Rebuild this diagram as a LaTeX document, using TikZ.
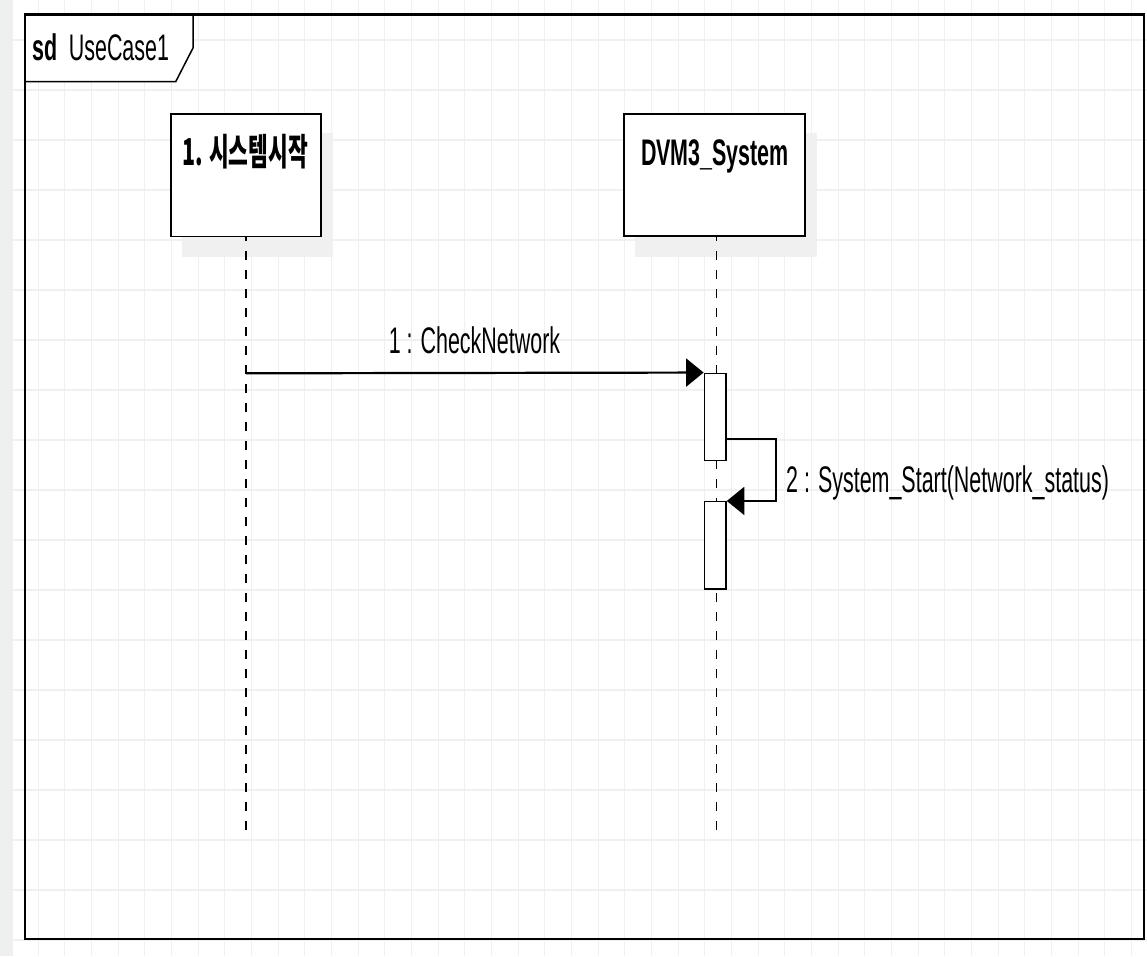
\documentclass[tikz,border=0pt]{standalone}
\usepackage{fontspec}
\usepackage{graphicx}
\setmainfont{Liberation Sans}
\newfontfamily\krfont{Noto Sans CJK KR}
\usetikzlibrary{arrows.meta,backgrounds}
\definecolor{gridc}{RGB}{240,240,240}
\definecolor{stripc}{RGB}{238,240,239}
\definecolor{shadowc}{RGB}{240,240,240}
\newcommand\sqz[1]{\scalebox{0.58}[1]{#1}}
\begin{document}
\begin{tikzpicture}[x=1pt,y=-1pt,
  gridline/.style={draw=gridc,line width=1.2pt},
  headbox/.style={draw=black,fill=white,line width=1.6pt,inner sep=0pt},
  actbox/.style={draw=black,fill=white,line width=1.5pt,inner sep=0pt,minimum width=21.7pt},
  lifeline/.style={draw=black,line width=1.5pt,dash pattern=on 9.5pt off 9.5pt},
  msg/.style={draw=black,line width=2.2pt,-{Triangle[length=17.5pt,width=28pt]}},
  selfmsg/.style={draw=black,line width=1.8pt,-{Triangle[length=17.5pt,width=28pt]}},
  txt/.style={inner sep=0pt,font=\fontsize{37pt}{40pt}\selectfont},
  ]
\useasboundingbox (0,0) rectangle (1147,956);

% frame tab and frame
\draw[fill=white,line width=1.5pt] (25,14.3) -- (193,14.3) -- (193,48) -- (175.7,81.7) -- (25,81.7) -- cycle;
\draw[line width=2.4pt] (25,14.3) rectangle (1144,939);
\node[txt,anchor=base west] (title) at (32,60) {\sqz{\textbf{sd}\hspace{20pt}UseCase1}};

% lifeline heads
\node[headbox,minimum width=150pt,minimum height=122.7pt] (l1) at (246,175.3) {};
\node[headbox,minimum width=181pt,minimum height=122pt] (l2) at (714.5,175) {};
\node[txt,anchor=base] (l1t) at (245,165.7) {\sqz{\krfont\bfseries 1. 시스템시작}};
\node[txt,anchor=base] (l2t) at (715,165.7) {\sqz{\bfseries DVM3\_System}};

% lifelines
\coordinate (l1end) at (246,830);
\coordinate (l2end) at (716.5,830);
\draw[lifeline] (l1end) -- (l1.south);
\draw[lifeline] (l2end) -- (l2.south -| l2end);

% activations
\node[actbox,minimum height=87.4pt] (a1) at (715.2,417) {};
\node[actbox,minimum height=87.3pt] (a2) at (715.2,545.35) {};

% message 1
\coordinate (m1s) at (246,373.3);
\draw[msg] (m1s) -- (a1.north west);
\node[txt,anchor=base] (m1t) at (474.5,353.3) {\sqz{1 : CheckNetwork}};

% self message 2
\coordinate (m2s) at (726,439);
\draw[selfmsg] (m2s) -- (776,439) |- (a2.north east);
\node[txt,anchor=base west] (m2t) at (786,492.7) {\sqz{2 : System\_Start(Network\_status)}};

% background: page, grid and shadows
\begin{scope}[on background layer]
  \fill[white] (0,0) rectangle (1147,956);
  \fill[stripc] (0,0) rectangle (12.5,956);
  \foreach \i in {0,...,42} \draw[gridline] ({11.5+26.667*\i},0) -- ({11.5+26.667*\i},956);
  \foreach \j in {0,...,18} \draw[gridline] (12.5,{40+50*\j}) -- (1147,{40+50*\j});
  \fill[shadowc] ([shift={(11.5,20)}]l1.south west) rectangle ([shift={(11.5,20)}]l1.north east);
  \fill[shadowc] ([shift={(11.5,20)}]l2.south west) rectangle ([shift={(11.5,20)}]l2.north east);
\end{scope}
\end{tikzpicture}
\end{document}
